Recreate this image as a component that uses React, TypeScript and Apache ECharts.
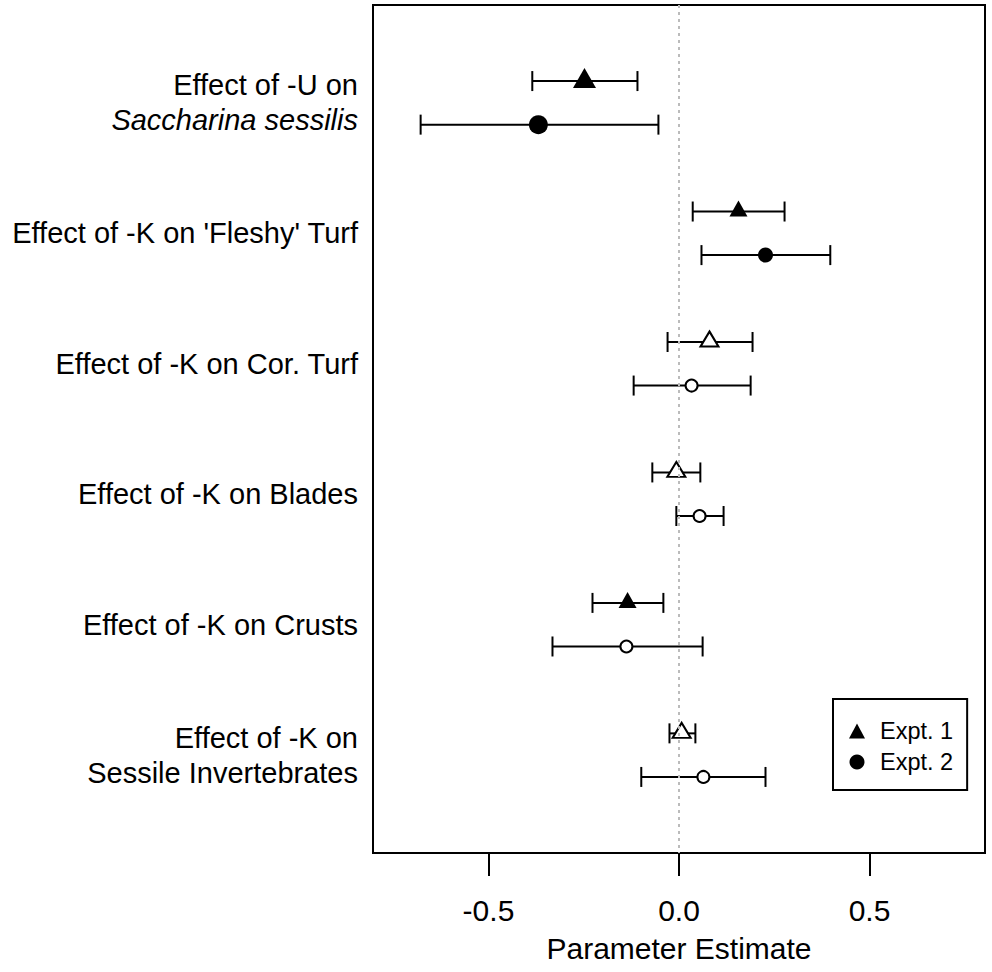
import React, { useEffect, useRef } from "react";
import * as echarts from "echarts";

const groupLabels = [
  "{a|Effect of -U on}\n{b|Saccharina sessilis}",
  "{a|Effect of -K on 'Fleshy' Turf}",
  "{a|Effect of -K on Cor. Turf}",
  "{a|Effect of -K on Blades}",
  "{a|Effect of -K on Crusts}",
  "{a|Effect of -K on}\n{a|Sessile Invertebrates}",
];

const expt1Est = [-0.248, 0.156, 0.08, -0.007, -0.135, 0.007];
const expt1Low = [-0.385, 0.036, -0.03, -0.07, -0.227, -0.025];
const expt1High = [-0.109, 0.277, 0.193, 0.056, -0.041, 0.043];
const expt1Filled = [true, true, false, false, true, false];

const expt2Est = [-0.369, 0.227, 0.033, 0.054, -0.138, 0.064];
const expt2Low = [-0.678, 0.059, -0.119, -0.007, -0.332, -0.099];
const expt2High = [-0.054, 0.397, 0.188, 0.117, 0.062, 0.227];
const expt2Filled = [true, true, false, false, false, false];

const xTicks = [-0.5, 0, 0.5];
const groupPos = [0, 1, 2, 3, 4, 5];
const rowOffset = 0.167;

const FONT = "'Liberation Sans', Arial, sans-serif";

export default function App() {
  const ref = useRef<HTMLDivElement>(null);
  useEffect(() => {
    document.body.style.margin = "0";
    const chart = echarts.init(ref.current!, undefined, { renderer: "svg" });

    const markerSize = (i: number, isTri: boolean, filled: boolean) => {
      if (i === 0) return isTri ? [23, 20] : 19;
      if (filled) return isTri ? [18, 16] : 15;
      return isTri ? [18, 15] : 12;
    };

    const ptData = (est: number[], filled: boolean[], off: number, isTri: boolean) =>
      est.map((v, i) => ({
        value: [v, groupPos[i] + off],
        symbolSize: markerSize(i, isTri, filled[i]),
        itemStyle: filled[i]
          ? { color: "#000", borderWidth: 0, opacity: 1 }
          : { color: "#fff", borderColor: "#000", borderWidth: 2, opacity: 1 },
      }));

    const errData = [
      ...expt1Est.map((_, i) => [expt1Low[i], expt1High[i], groupPos[i] - rowOffset]),
      ...expt2Est.map((_, i) => [expt2Low[i], expt2High[i], groupPos[i] + rowOffset]),
    ];

    const option: any = {
      animation: false,
      textStyle: { fontFamily: FONT },
      grid: {
        left: 373,
        right: 7,
        top: 5,
        bottom: 119,
        show: true,
        borderColor: "#000",
        borderWidth: 2,
        backgroundColor: "transparent",
      },
      xAxis: {
        type: "value",
        min: -0.803,
        max: 0.803,
        axisLine: { show: false, onZero: false },
        splitLine: { show: false },
        axisTick: {
          show: true,
          customValues: xTicks,
          length: 23,
          lineStyle: { color: "#000", width: 2 },
        },
        axisLabel: {
          customValues: xTicks,
          margin: 42,
          fontSize: 30,
          color: "#000",
          fontFamily: FONT,
          formatter: (v: number) => v.toFixed(1),
        },
        name: "Parameter Estimate",
        nameLocation: "middle",
        nameGap: 80,
        nameTextStyle: { fontSize: 30, color: "#000", fontFamily: FONT },
      },
      yAxis: {
        type: "value",
        inverse: true,
        min: -0.75,
        max: 5.75,
        axisLine: { show: false, onZero: false },
        axisTick: { show: false },
        splitLine: { show: false },
        axisLabel: {
          customValues: groupPos,
          margin: 15,
          align: "right",
          formatter: (v: number) => groupLabels[Math.round(v)] ?? "",
          rich: {
            a: { fontSize: 29, lineHeight: 35, color: "#000", fontFamily: FONT, align: "right" },
            b: {
              fontSize: 29,
              lineHeight: 35,
              color: "#000",
              fontStyle: "italic",
              fontFamily: FONT,
              align: "right",
            },
          },
        },
      },
      legend: {
        orient: "vertical",
        left: 833,
        top: 699,
        padding: [20, 14, 16, 16],
        itemWidth: 16,
        itemHeight: 15,
        itemGap: 7,
        borderColor: "#000",
        borderWidth: 2,
        backgroundColor: "#fff",
        textStyle: {
          fontSize: 23.5,
          lineHeight: 24,
          color: "#000",
          fontFamily: FONT,
          padding: [0, 0, 0, 10],
        },
        data: [
          { name: "Expt. 1", icon: "triangle", itemStyle: { color: "#000", opacity: 1 } },
          { name: "Expt. 2", icon: "circle", itemStyle: { color: "#000", opacity: 1 } },
        ],
        selectedMode: false,
      },
      series: [
        {
          type: "custom",
          name: "errors",
          z: 2,
          encode: { x: [0, 1], y: 2 },
          data: errData,
          renderItem: (params: any, api: any) => {
            const lo = api.coord([api.value(0), api.value(2)]);
            const hi = api.coord([api.value(1), api.value(2)]);
            const h = 10;
            const st = { stroke: "#000", lineWidth: 2 };
            return {
              type: "group",
              children: [
                { type: "line", shape: { x1: lo[0], y1: lo[1], x2: hi[0], y2: hi[1] }, style: st },
                { type: "line", shape: { x1: lo[0], y1: lo[1] - h, x2: lo[0], y2: lo[1] + h }, style: st },
                { type: "line", shape: { x1: hi[0], y1: hi[1] - h, x2: hi[0], y2: hi[1] + h }, style: st },
              ],
            };
          },
          markLine: {
            silent: true,
            symbol: "none",
            label: { show: false },
            lineStyle: { color: "#bbb", width: 2, type: [3, 4] },
            data: [{ xAxis: 0 }],
          },
        },
        {
          type: "scatter",
          name: "Expt. 1",
          symbol: "triangle",
          symbolOffset: [0, -3],
          z: 3,
          itemStyle: { color: "#000", opacity: 1 },
          data: ptData(expt1Est, expt1Filled, -rowOffset, true),
        },
        {
          type: "scatter",
          name: "Expt. 2",
          symbol: "circle",
          z: 3,
          itemStyle: { color: "#000", opacity: 1 },
          data: ptData(expt2Est, expt2Filled, rowOffset, false),
        },
      ],
    };
    chart.setOption(option);
    return () => chart.dispose();
  }, []);
  return <div ref={ref} style={{ width: 992, height: 972 }} />;
}
